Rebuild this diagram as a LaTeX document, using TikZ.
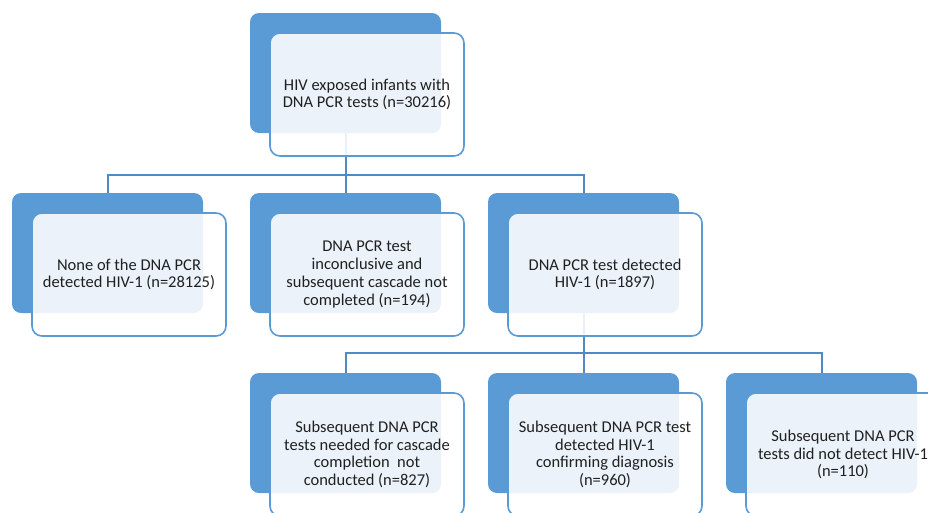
\documentclass[tikz,border=0pt]{standalone}
\usepackage{fontspec}
\setmainfont{Carlito}
\usepackage{tikz}
\usetikzlibrary{positioning}

\definecolor{boxblue}{HTML}{5B9BD5}
\definecolor{lineblue}{HTML}{4F8AC6}
\definecolor{txtgray}{HTML}{202020}

\begin{document}
\begin{tikzpicture}[x=1pt,y=1pt]
    \tikzstyle{back}=[fill=boxblue,rounded corners=9pt,minimum width=191pt,minimum height=120pt]
    \tikzstyle{front}=[draw=boxblue,line width=1.6pt,fill=white,fill opacity=0.88,text opacity=1,rounded corners=10pt,minimum width=194pt,minimum height=123pt,align=center,text=txtgray,font=\fontsize{16.5}{17.7}\selectfont]
    \tikzstyle{edge} = [draw,lineblue,line width=2pt]

    \useasboundingbox (0,0) rectangle (928,-512);
    \clip (0,0) rectangle (928,-512);

    % back boxes
    \node[back] (b0) at (345.5,-73) {};
    \node[back] (b1) at (107.5,-253) {};
    \node[back] (b2) at (345.5,-253) {};
    \node[back] (b3) at (583.5,-253) {};
    \node[back] (b4) at (345.5,-433) {};
    \node[back] (b5) at (583.5,-433) {};
    \node[back] (b6) at (821.5,-433) {};

    \path[edge] (b0.south) -- ++(0,-42) -| (b1.north);
    \path[edge] (b0.south) -- (b2.north);
    \path[edge] (b0.south) -- ++(0,-42) -| (b3.north);
    \path[edge] (b3.south) -- ++(0,-40) -| (b4.north);
    \path[edge] (b3.south) -- (b5.north);
    \path[edge] (b3.south) -- ++(0,-40) -| (b6.north);

    % front boxes with the counts
    \node[front] (f0) at ([shift={(21.5,-21.5)}]b0.center) {HIV exposed infants with\\DNA PCR tests (n=30216)};
    \node[front] (f1) at ([shift={(21.5,-21.5)}]b1.center) {None of the DNA PCR\\detected HIV-1 (n=28125)};
    \node[front] (f2) at ([shift={(21.5,-21.5)}]b2.center) {DNA PCR test\\inconclusive and\\subsequent cascade not\\completed (n=194)};
    \node[front] (f3) at ([shift={(21.5,-21.5)}]b3.center) {DNA PCR test detected\\HIV-1 (n=1897)};
    \node[front] (f4) at ([shift={(21.5,-21.5)}]b4.center) {Subsequent DNA PCR\\tests needed for cascade\\completion~ not\\conducted (n=827)};
    \node[front] (f5) at ([shift={(21.5,-21.5)}]b5.center) {Subsequent DNA PCR test\\detected HIV-1\\confirming diagnosis\\(n=960)};
    \node[front] (f6) at ([shift={(21.5,-21.5)}]b6.center) {Subsequent DNA PCR\\tests did not detect HIV-1\\(n=110)};

\end{tikzpicture}
\end{document}
